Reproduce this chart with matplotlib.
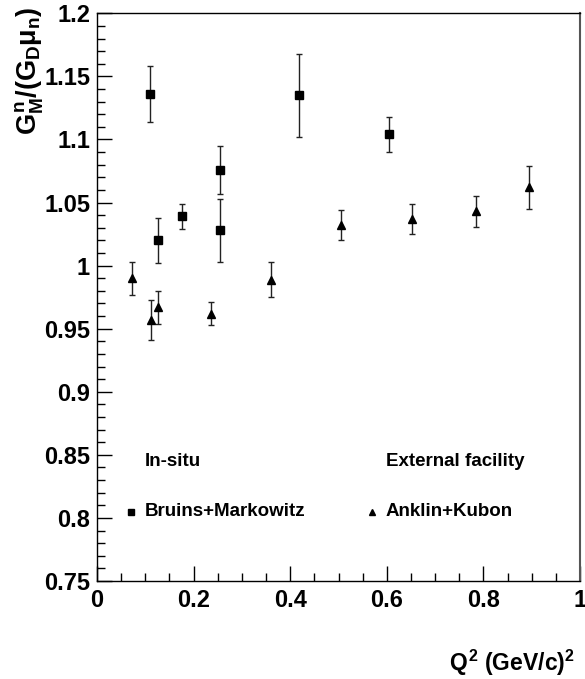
import matplotlib
matplotlib.use('Agg')
import matplotlib.pyplot as plt
from matplotlib.ticker import MultipleLocator, FuncFormatter

plt.rcParams['font.family'] = ['Liberation Sans', 'DejaVu Sans']
plt.rcParams['font.weight'] = 'bold'
plt.rcParams['mathtext.fontset'] = 'custom'
plt.rcParams['mathtext.rm'] = 'Liberation Sans:bold'
plt.rcParams['mathtext.bf'] = 'Liberation Sans:bold'
plt.rcParams['mathtext.it'] = 'Liberation Sans:bold'

# Bruins+Markowitz (in-situ)
bm_q2 = [0.109, 0.126, 0.177, 0.255, 0.255, 0.4175, 0.605]
bm_val = [1.136, 1.020, 1.039, 1.076, 1.028, 1.135, 1.104]
bm_err = [0.022, 0.018, 0.010, 0.019, 0.025, 0.033, 0.014]

# Anklin+Kubon (external facility)
ak_q2 = [0.072, 0.112, 0.126, 0.236, 0.360, 0.5045, 0.652, 0.784, 0.894]
ak_val = [0.990, 0.957, 0.967, 0.962, 0.989, 1.032, 1.037, 1.043, 1.062]
ak_err = [0.013, 0.016, 0.013, 0.009, 0.014, 0.012, 0.012, 0.012, 0.017]

fig = plt.figure(figsize=(5.85, 6.79), dpi=100)
ax = fig.add_axes([0.1658, 0.1443, 0.8257, 0.8361])

ax.errorbar(bm_q2, bm_val, yerr=bm_err, fmt='s', color='black', ecolor='#222222',
            ms=6, elinewidth=1, capsize=2, capthick=1)
ax.errorbar(ak_q2, ak_val, yerr=ak_err, fmt='^', color='black', ecolor='#222222',
            ms=6, elinewidth=1, capsize=2, capthick=1)

ax.set_xlim(0, 1)
ax.set_ylim(0.75, 1.2)

ax.xaxis.set_major_locator(MultipleLocator(0.2))
ax.xaxis.set_minor_locator(MultipleLocator(0.05))
ax.yaxis.set_major_locator(MultipleLocator(0.05))
ax.yaxis.set_minor_locator(MultipleLocator(0.01))
fmt = FuncFormatter(lambda v, p: '%g' % round(v, 3))
ax.xaxis.set_major_formatter(fmt)
ax.yaxis.set_major_formatter(fmt)

ax.tick_params(which='both', direction='in', top=False, right=False, width=1)
ax.tick_params(which='major', length=11, labelsize=17)
ax.tick_params(axis='x', which='major', pad=6)
ax.tick_params(axis='y', which='major', pad=5)
ax.tick_params(which='minor', length=5.5)
for lab in ax.get_xticklabels() + ax.get_yticklabels():
    lab.set_fontweight('bold')

for s in ['left', 'bottom', 'top']:
    ax.spines[s].set_linewidth(1)
ax.spines['right'].set_color('#555555')
ax.spines['right'].set_linewidth(1.5)

# text labels and legend
ax.text(0.099, 0.845, 'In-situ', fontsize=13.5, fontweight='bold', va='center')
ax.text(0.598, 0.845, 'External facility', fontsize=13.5, fontweight='bold', va='center')
ax.plot([0.070], [0.805], 's', color='black', ms=5)
ax.text(0.099, 0.805, 'Bruins+Markowitz', fontsize=13.5, fontweight='bold', va='center')
ax.plot([0.570], [0.805], '^', color='black', ms=5)
ax.text(0.598, 0.805, 'Anklin+Kubon', fontsize=13.5, fontweight='bold', va='center')

fig.text(0.050, 0.990, r'$G^{n}_{M}/(G_{D}μ_{n})$', rotation=90,
         fontsize=19.5, ha='center', va='top')
fig.text(0.983, 0.0236, r'$Q^{2}$ (GeV/c)$^{2}$', fontsize=16.5,
         fontweight='bold', ha='right', va='center')

fig.savefig('out.png', dpi=100)
